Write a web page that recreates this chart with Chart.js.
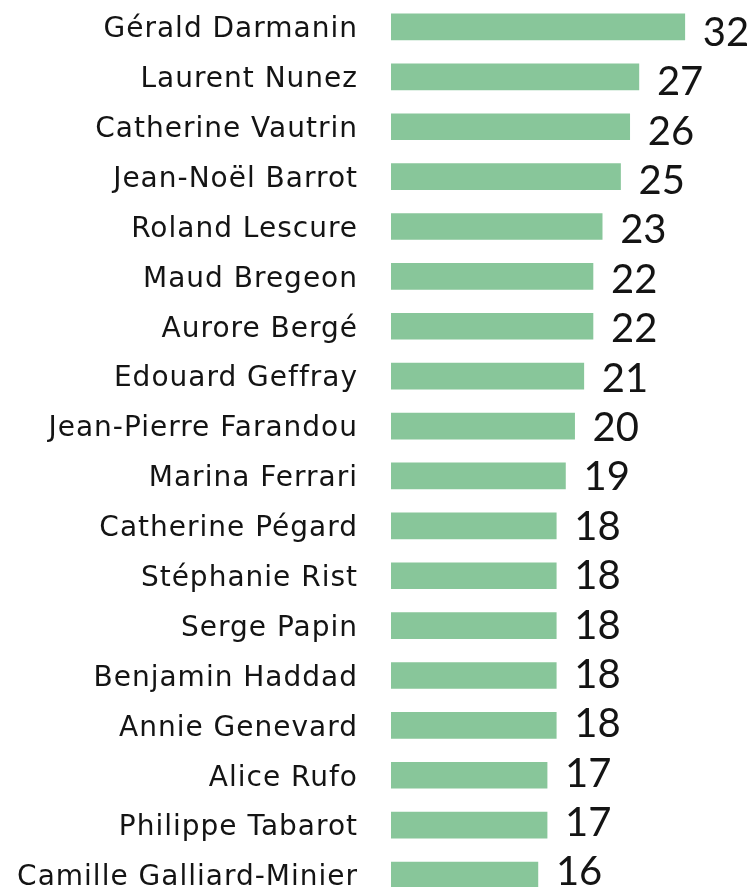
<!DOCTYPE html>
<html>
<head>
<meta charset="utf-8">
<script src="https://cdn.jsdelivr.net/npm/chart.js@4.4.1/dist/chart.umd.min.js"></script>
<style>
  html, body { margin: 0; padding: 0; background: #fff; overflow: hidden; }
  #wrap { width: 753px; height: 900px; }
</style>
</head>
<body>
<div id="wrap"><canvas id="ministers-chart" width="753" height="900"></canvas></div>
<script>
const names = [
  'Gérald Darmanin', 'Laurent Nunez', 'Catherine Vautrin', 'Jean-Noël Barrot',
  'Roland Lescure', 'Maud Bregeon', 'Aurore Bergé', 'Edouard Geffray',
  'Jean-Pierre Farandou', 'Marina Ferrari', 'Catherine Pégard', 'Stéphanie Rist',
  'Serge Papin', 'Benjamin Haddad', 'Annie Genevard', 'Alice Rufo',
  'Philippe Tabarot', 'Camille Galliard-Minier'
];
const counts = [32, 27, 26, 25, 23, 22, 22, 21, 20, 19, 18, 18, 18, 18, 18, 17, 17, 16];

const barColor = '#88c69a';
const textColor = '#141414';
const nameFont = '"DejaVu Sans", sans-serif';
const valueFont = 'Lato, "Open Sans", sans-serif';

// the names in the reference are set wide, a bit of letter spacing helps
const spacing = {
  id: 'spacing',
  beforeDraw(chart) {
    chart.ctx.letterSpacing = '1px';
  }
};

// draws the value right after each bar
// (in the original the numbers drift up slightly relative to the bars)
const valueLabels = {
  id: 'valueLabels',
  afterDatasetsDraw(chart) {
    const ctx = chart.ctx;
    const meta = chart.getDatasetMeta(0);
    ctx.save();
    ctx.letterSpacing = '0px';
    ctx.font = `40px ${valueFont}`;
    ctx.fillStyle = textColor;
    ctx.textAlign = 'left';
    ctx.textBaseline = 'middle';
    meta.data.forEach((bar, i) => {
      ctx.fillText(String(counts[i]), bar.x + 18, bar.y + 6 - 0.5 * i);
    });
    ctx.restore();
  }
};

const ctx = document.getElementById('ministers-chart').getContext('2d');
new Chart(ctx, {
  type: 'bar',
  data: {
    labels: names,
    datasets: [{
      data: counts,
      backgroundColor: barColor,
      borderWidth: 0,
      barThickness: 26,
    }],
  },
  options: {
    indexAxis: 'y',
    responsive: false,
    animation: false,
    devicePixelRatio: 1,
    layout: { padding: { top: 2, right: 0, bottom: 0, left: 0 } },
    plugins: {
      legend: { display: false },
      tooltip: { enabled: false },
    },
    scales: {
      x: {
        min: 0,
        max: 39.43,
        display: false,
      },
      y: {
        border: { display: false },
        grid: { display: false, drawTicks: false },
        afterFit: (scale) => {
          scale.width = 391;
          scale.paddingTop = 0;
          scale.paddingBottom = 0;
        },
        ticks: {
          padding: 33,
          labelOffset: 3,
          color: textColor,
          font: { family: nameFont, size: 28 },
        },
      },
    },
  },
  plugins: [spacing, valueLabels],
});
</script>
</body>
</html>
